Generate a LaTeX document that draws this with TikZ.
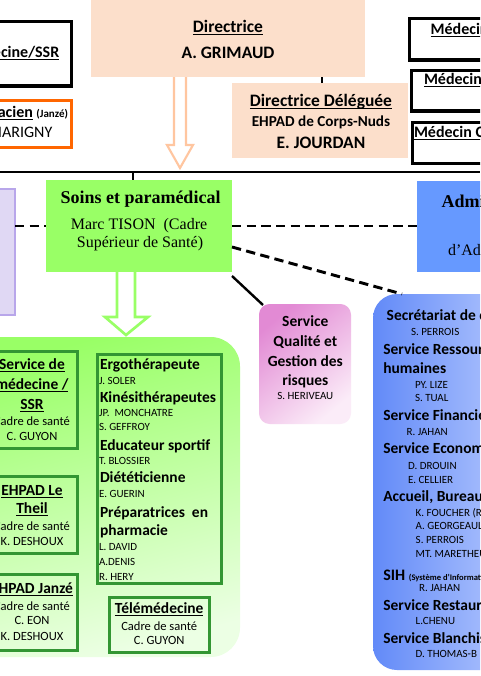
\documentclass[tikz,border=0pt]{standalone}
\usepackage{fontspec}
\setmainfont{Carlito}
\newfontfamily\serifT{Liberation Serif}
\newcommand\myul[1]{\setbox0\hbox{#1}\rlap{\vrule height -0.10em depth 0.16em width \wd0}\box0}
\usetikzlibrary{fit}
\definecolor{peach}{RGB}{252,223,203}
\definecolor{peachline}{RGB}{255,198,160}
\definecolor{orangeb}{RGB}{255,102,0}
\definecolor{lavfill}{RGB}{224,216,244}
\definecolor{lavline}{RGB}{184,166,234}
\definecolor{soinsg}{RGB}{153,255,102}
\definecolor{adminb}{RGB}{102,153,255}
\definecolor{qualA}{RGB}{226,138,212}
\definecolor{qualB}{RGB}{251,236,248}
\definecolor{secA}{RGB}{98,138,248}
\definecolor{secB}{RGB}{205,218,255}
\definecolor{contA}{RGB}{153,255,102}
\definecolor{contB}{RGB}{236,255,228}
\definecolor{darkg}{RGB}{51,150,51}
\tikzset{
 tx/.style={inner sep=0pt, outer sep=0pt, text=black},
 fBig/.style={font=\fontsize{13.1pt}{15pt}\selectfont\bfseries},
 fSub/.style={font=\fontsize{11.4pt}{13pt}\selectfont\bfseries},
 fMed/.style={font=\fontsize{12pt}{14pt}\selectfont\bfseries},
 fHead/.style={font=\fontsize{11.6pt}{14pt}\selectfont\bfseries},
 fName/.style={font=\fontsize{8.25pt}{10pt}\selectfont},
 fCadre/.style={font=\fontsize{9.4pt}{11pt}\selectfont},
 fSerB/.style={font=\serifT\fontsize{13.5pt}{16pt}\selectfont\bfseries},
 fSer/.style={font=\serifT\fontsize{12pt}{14pt}\selectfont},
 boxfit/.style={inner sep=0pt, outer sep=0pt},
 blackbox/.style={boxfit, draw=black, line width=2.6pt},
 greenbox/.style={boxfit, draw=darkg, line width=2.25pt},
 conn/.style={draw=black, line width=1.8pt},
 dconn/.style={draw=black, line width=2.2pt, dash pattern=on 7pt off 4pt},
}
\begin{document}
\begin{tikzpicture}[x=0.75pt,y=-0.75pt]
\useasboundingbox (0,0) rectangle (480,676);
\fill[white] (0,0) rectangle (480,676);
\clip (0,0) rectangle (480,676);

% ---------- top boxes
\node[boxfit, fill=peach, fit={(91,-10) (365,77)}] (dir) {};
\node[boxfit, fill=peach, fit={(232,83) (408,158)}] (del) {};
\node[blackbox, fit={(-10,21.5) (71.5,86)}] (bssr) {};
\node[boxfit, draw=orangeb, line width=2.4pt, fit={(-10,100.5) (71.5,147.5)}] (bpha) {};
\node[blackbox, fit={(409.5,18.5) (520,60)}] (bmed1) {};
\node[blackbox, fit={(411.5,70.5) (520,111)}] (bmed2) {};
\node[blackbox, fit={(412.5,122.5) (520,163.5)}] (bmed3) {};

% ---------- second row
\node[boxfit, fill=lavfill, draw=lavline, line width=2pt, fit={(-10,189) (15,315)}] (lav) {};
\node[boxfit, fill=soinsg, fit={(46,180) (232,272)}] (soins) {};
\node[boxfit, fill=adminb, fit={(417,181) (540,272)}] (admin) {};

% ---------- lower boxes
\node[boxfit, top color=qualA, bottom color=qualB, shading angle=40, rounded corners=8pt, fit={(259,304) (351,424)}] (qual) {};
\node[boxfit, left color=secA, right color=secB, rounded corners=18pt, fit={(373,294) (560,670)}] (secr) {};
\node[boxfit, top color=contA, bottom color=contB, shading angle=15, rounded corners=22pt, fit={(-40,337) (240,657)}] (cont) {};
\node[greenbox, fit={(-10,351) (77.5,448.5)}] (gssr) {};
\node[greenbox, fit={(-10,476.5) (77.5,553.5)}] (gthe) {};
\node[greenbox, fit={(-10,574) (77.5,650.5)}] (gjan) {};
\node[greenbox, fit={(97.5,354) (221,583.5)}] (gpar) {};
\node[greenbox, fit={(109,597.5) (209.5,652.5)}] (gtel) {};

% ---------- connectors
\coordinate (hl) at (0,172);
\coordinate (hr) at (480,172);
\coordinate (tk) at (133,172);
\draw[draw=black, line width=1.5pt] (hl) -- (hr);
\draw[draw=black, line width=1.5pt] (tk) -- (tk |- soins.north);
\draw[draw=black, line width=1.5pt] (del.north -| 322,0) -- (dir.south -| 322,0);
\draw[dconn] (lav.east |- soins.west) -- (soins.west);
\draw[dconn] (soins.east) -- (admin.west |- soins.east);
\draw[dconn] ([yshift=-15.75pt]soins.east) -- ([xshift=21.75pt]secr.north west);
\draw[conn] ([yshift=-3pt]soins.south east) -- ([xshift=3pt,yshift=-0.75pt]qual.north west);

% hollow arrows
\coordinate (pa) at (180,77);
\draw[draw=peachline, line width=1.6pt, fill=white, line join=miter]
  ([xshift=-4.5pt]pa) -- ++(0,68) -- ++(-7,0) -- (180,168) -- (193,145) -- (186,145) -- ([xshift=4.5pt]pa);
\coordinate (ga) at (126,272);
\draw[draw=soinsg, line width=2pt, fill=white, line join=miter]
  ([xshift=-6.75pt]ga) -- (117,317) -- (105,317) -- (126,335) -- (148,317) -- (135,317) -- ([xshift=6.75pt]ga);

% ---------- texts top
\node[tx,fBig,anchor=base] (tdir) at (228,32) {\myul{Directrice}};
\node[tx,fBig,anchor=base] (tgri) at (228,58.5) {A. GRIMAUD};
\node[tx,fBig,anchor=base] (tdel) at (321,106) {\myul{Directrice Déléguée}};
\node[tx,fSub,anchor=base] (tcn) at (321,126) {EHPAD de Corps-Nuds};
\node[tx,fBig,anchor=base] (tjou) at (321,148) {E. JOURDAN};
\node[tx,fMed,anchor=base east] (tssr) at (59.3,57.3) {\myul{Médecine/SSR}};
\node[tx,anchor=base east] (tpha) at (68,117) {\fontsize{12pt}{14pt}\selectfont\bfseries\myul{Pharmacien}\hspace{2.6pt}{\fontsize{8.25pt}{10pt}\selectfont(Janzé)}};
\node[tx,anchor=base east,font=\fontsize{12pt}{14pt}\selectfont] (tmar) at (52.3,137.3) {MARIGNY};
\node[tx,fMed,anchor=base west] (tm1) at (430.7,34) {\myul{Médecin}};
\node[tx,fMed,anchor=base west] (tm2) at (424,84) {\myul{Médecin}};
\node[tx,fMed,anchor=base west] (tm3) at (414,137.5) {\myul{Médecin Coordonnateur}};

% ---------- soins / admin
\node[tx,fSerB,anchor=base] (ts1) at (140.5,203.5) {Soins et paramédical};
\node[tx,fSer,anchor=base] (ts2) at (139,229.5) {Marc TISON\ \ (Cadre};
\node[tx,fSer,anchor=base] (ts3) at (140,247.5) {Supérieur de Santé)};
\node[tx,fSerB,anchor=base west] (ta1) at (441.7,207.5) {Administration};
\node[tx,fSer,anchor=base west] (ta2) at (448,255) {d’Administration};

% ---------- qualite
\node[tx,fHead,anchor=base] (tq1) at (305.3,326) {Service};
\node[tx,fHead,anchor=base] (tq2) at (305.3,346) {Qualité et};
\node[tx,fHead,anchor=base] (tq3) at (305.3,366) {Gestion des};
\node[tx,fHead,anchor=base] (tq4) at (305.3,385.5) {risques};
\node[tx,fName,anchor=base] (tq5) at (305.3,399.5) {S. HERIVEAU};

% ---------- secretariat
\node[tx,fHead,anchor=base west] (r1) at (386.7,320.3) {Secrétariat de direction};
\node[tx,fName,anchor=base west] (r2) at (411,335.5) {S. PERROIS};
\node[tx,fHead,anchor=base west] (r3) at (383.3,354.5) {Service Ressources};
\node[tx,fHead,anchor=base west] (r4) at (383.3,373.3) {humaines};
\node[tx,fName,anchor=base west] (r5) at (415,388.3) {PY. LIZE};
\node[tx,fName,anchor=base west] (r6) at (415,401.5) {S. TUAL};
\node[tx,fHead,anchor=base west] (r7) at (383.3,420.5) {Service Financier};
\node[tx,fName,anchor=base west] (r8) at (406.5,435.3) {R. JAHAN};
\node[tx,fHead,anchor=base west] (r9) at (383.3,453) {Service Economique};
\node[tx,fName,anchor=base west] (r10) at (408,469) {D. DROUIN};
\node[tx,fName,anchor=base west] (r11) at (408,483.3) {E. CELLIER};
\node[tx,fHead,anchor=base west] (r12) at (383.3,501.7) {Accueil, Bureau des entrées};
\node[tx,fName,anchor=base west] (r13) at (415.7,516.3) {K. FOUCHER (R};
\node[tx,fName,anchor=base west] (r14) at (415.7,529.7) {A. GEORGEAULT};
\node[tx,fName,anchor=base west] (r15) at (415.7,543.7) {S. PERROIS};
\node[tx,fName,anchor=base west] (r16) at (415.7,557) {MT. MARETHEU};
\node[tx,anchor=base west] (r17) at (383.3,580) {\fontsize{12pt}{14pt}\selectfont\bfseries SIH {\fontsize{6.4pt}{8pt}\selectfont(Système d’Information Hospitalier)}};
\node[tx,fName,anchor=base west] (r18) at (419,591.3) {R. JAHAN};
\node[tx,fHead,anchor=base west] (r19) at (383.3,610.7) {Service Restauration};
\node[tx,fName,anchor=base west] (r20) at (415.7,624.7) {L.CHENU};
\node[tx,fHead,anchor=base west] (r21) at (383.3,643.3) {Service Blanchisserie};
\node[tx,fName,anchor=base west] (r22) at (415.7,657) {D. THOMAS-B};

% ---------- green container: left column
\node[tx,fHead,anchor=base] (g1) at (32,369.3) {\myul{Service de}};
\node[tx,fHead,anchor=base] (g2) at (32,389.3) {\myul{médecine /}};
\node[tx,fHead,anchor=base] (g3) at (32,409.3) {\myul{SSR}};
\node[tx,fCadre,anchor=base] (g4) at (32,425) {Cadre de santé};
\node[tx,fCadre,anchor=base] (g5) at (32,440) {C. GUYON};
\node[tx,fHead,anchor=base] (g6) at (32,495) {\myul{EHPAD Le}};
\node[tx,fHead,anchor=base] (g7) at (32,513.3) {\myul{Theil}};
\node[tx,fCadre,anchor=base] (g8) at (32,530) {Cadre de santé};
\node[tx,fCadre,anchor=base] (g9) at (32,545.7) {K. DESHOUX};
\node[tx,fHead,anchor=base] (g10) at (32,593.3) {\myul{EHPAD Janzé}};
\node[tx,fCadre,anchor=base] (g11) at (32,610) {Cadre de santé};
\node[tx,fCadre,anchor=base] (g12) at (32,624.7) {C. EON};
\node[tx,fCadre,anchor=base] (g13) at (32,640) {K. DESHOUX};

% ---------- green container: paramedical list
\node[tx,fHead,anchor=base west] (p1) at (100,369) {Ergothérapeute};
\node[tx,fName,anchor=base west] (p2) at (99,384) {J. SOLER};
\node[tx,fHead,anchor=base west] (p3) at (100,402.3) {Kinésithérapeutes};
\node[tx,fName,anchor=base west] (p4) at (99,416.5) {JP.\ \ MONCHATRE};
\node[tx,fName,anchor=base west] (p5) at (99,430.5) {S. GEFFROY};
\node[tx,fHead,anchor=base west] (p6) at (100,450) {Educateur sportif};
\node[tx,fName,anchor=base west] (p7) at (99,464.3) {T. BLOSSIER};
\node[tx,fHead,anchor=base west] (p8) at (100,482.7) {Diététicienne};
\node[tx,fName,anchor=base west] (p9) at (99,497.3) {E. GUERIN};
\node[tx,fHead,anchor=base west] (p10) at (100,517.3) {Préparatrices\ \ en};
\node[tx,fHead,anchor=base west] (p11) at (100,535.5) {pharmacie};
\node[tx,fName,anchor=base west] (p12) at (99,550.5) {L. DAVID};
\node[tx,fName,anchor=base west] (p13) at (99,565.5) {A.DENIS};
\node[tx,fName,anchor=base west] (p14) at (99,580) {R. HERY};

% ---------- telemedecine
\node[tx,fHead,anchor=base] (e1) at (159.2,613.3) {\myul{Télémédecine}};
\node[tx,fCadre,anchor=base] (e2) at (159.2,630) {Cadre de santé};
\node[tx,fCadre,anchor=base] (e3) at (159.2,644.7) {C. GUYON};
\end{tikzpicture}
\end{document}
